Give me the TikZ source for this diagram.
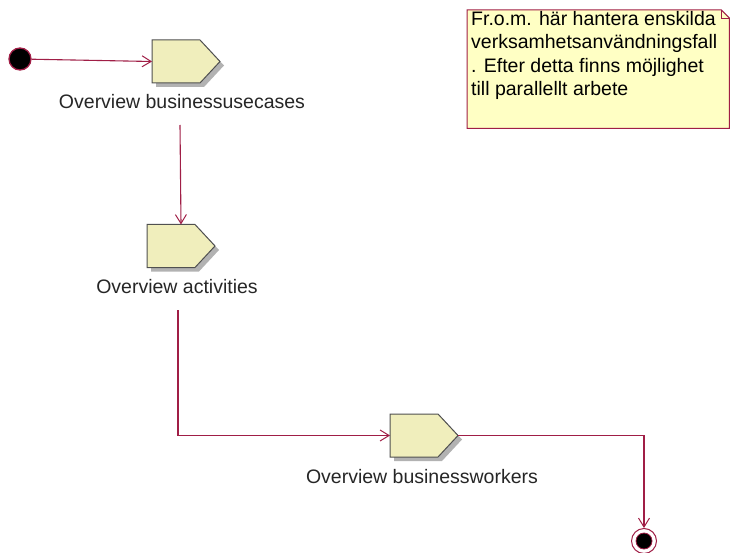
\documentclass[tikz,border=0pt]{standalone}
\usepackage{fontspec}
\setmainfont{Liberation Sans}
\usetikzlibrary{arrows.meta}
\definecolor{flow}{RGB}{160,30,70}
\definecolor{actfill}{RGB}{240,238,188}
\definecolor{actline}{RGB}{80,80,80}
\definecolor{notefill}{RGB}{255,255,196}
\tikzset{
  actframe/.style={rectangle, minimum width=68pt, minimum height=43pt, inner sep=0pt, outer sep=0pt},
  caption/.style={font=\fontsize{19.5}{23.5}\selectfont, text=black!85, inner sep=0pt},
  flowline/.style={draw=flow, line width=1.1pt, -{Straight Barb[length=9pt,width=11pt,line width=1pt]}},
}
% pentagon-shaped action drawn over a named frame node, with a drop shadow
\newcommand\actionshape[1]{%
  \begin{scope}[transform canvas={xshift=4pt,yshift=-4pt}]
    \fill[black!30] (#1.north west) -- ([xshift=-20pt]#1.north east) -- (#1.east) -- ([xshift=-20pt]#1.south east) -- (#1.south west) -- cycle;
  \end{scope}
  \filldraw[fill=actfill, draw=actline, line width=1pt, line join=miter] (#1.north west) -- ([xshift=-20pt]#1.north east) -- (#1.east) -- ([xshift=-20pt]#1.south east) -- (#1.south west) -- cycle;
}
\begin{document}
\begin{tikzpicture}[x=1pt,y=-1pt]
\useasboundingbox (0,0) rectangle (730,553);

% initial and final states
\node (start) [circle, fill=black, draw=flow, line width=1.3pt, minimum size=22pt, inner sep=0pt] at (20,59) {};
\node (stop) [circle, draw=flow, line width=1pt, minimum size=25pt, inner sep=0pt] at (644,541) {};
\node (stopdot) [circle, fill=black, draw=flow, line width=0.8pt, minimum size=16pt, inner sep=0pt] at (stop.center) {};

% actions
\node (a1) [actframe] at (186,61.5) {};
\node (a2) [actframe] at (181,246) {};
\node (a3) [actframe] at (424,435.5) {};
\actionshape{a1}
\actionshape{a2}
\actionshape{a3}

\node (l1) [caption] at (182,102) {Overview businessusecases};
\node (l2) [caption] at (177,287) {Overview activities};
\node (l3) [caption] at (422,477) {Overview businessworkers};

% note with folded corner
\node (note) [anchor=north west, minimum width=262pt, minimum height=118pt, inner sep=0pt] at (467,10) {};
\filldraw[fill=notefill, draw=flow, line width=1pt] (note.north west) -- ([xshift=-8pt]note.north east) -- ([yshift=-8pt]note.north east) -- (note.south east) -- (note.south west) -- cycle;
\draw[flow, line width=0.7pt] ([xshift=-8pt]note.north east) -- ([xshift=-8pt,yshift=-8pt]note.north east) -- ([yshift=-8pt]note.north east);
\node (notetext) [caption, text=black, anchor=north west, align=left] at (471,11)
  {Fr.o.m. här hantera enskilda\\verksamhetsanvändningsfall\\. Efter detta finns möjlighet\\till parallellt arbete};

% control flow
\coordinate (c1) at (180,125);
\coordinate (c2) at (178,310);
\draw[flowline] (start) -- (a1.west);
\draw[flowline] (c1) -- (a2.north);
\draw[flowline] (c2) |- (a3.west);
\draw[flowline] (a3.east) -| (stop.north);
\end{tikzpicture}
\end{document}
